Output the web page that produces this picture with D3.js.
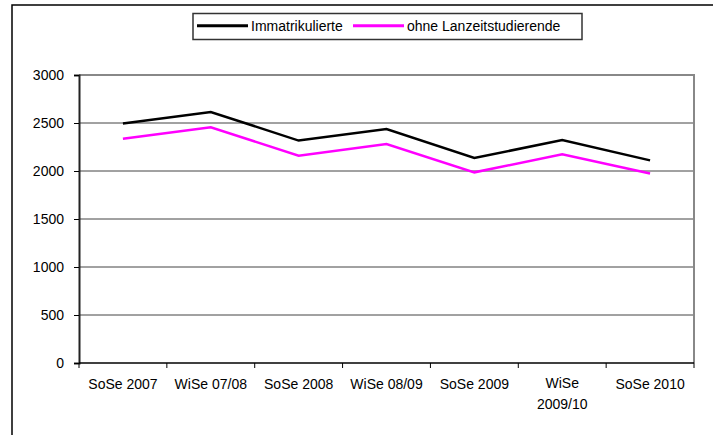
<!DOCTYPE html>
<html>
<head>
<meta charset="utf-8">
<script src="https://cdn.jsdelivr.net/npm/d3@7"></script>
<style>
  body { margin: 0; background: #fff; }
  svg { display: block; font-family: "Liberation Sans", Arial, sans-serif; }
</style>
</head>
<body>
<div id="chart"></div>
<script>
// Chart data
const semesters = ["SoSe 2007", "WiSe 07/08", "SoSe 2008", "WiSe 08/09", "SoSe 2009", "WiSe 2009/10", "SoSe 2010"];
const immatrikulierte = [2495, 2615, 2317, 2438, 2135, 2323, 2111];
const ohneLanzeit = [2337, 2455, 2160, 2281, 1986, 2174, 1973];
const yTicks = [0, 500, 1000, 1500, 2000, 2500, 3000];
const seriesNames = ["Immatrikulierte", "ohne Lanzeitstudierende"];
const seriesColors = ["#000000", "#ff00ff"];

const width = 713, height = 435;
const plot = {left: 79, top: 75, right: 694, bottom: 363};
const fontSize = 14;

const svg = d3.select('#chart').append('svg')
  .attr('width', width)
  .attr('height', height);

// Outer frame (only top and left edges visible)
svg.append('path')
  .attr('d', `M12,${height} L12,5 L${width},5`)
  .attr('fill', 'none')
  .attr('stroke', '#000')
  .attr('stroke-width', 1.5);

const x = d3.scaleBand()
  .domain(semesters)
  .range([plot.left, plot.right]);

const y = d3.scaleLinear()
  .domain([0, 3000])
  .range([plot.bottom, plot.top]);

// Gridlines
svg.append('g')
  .selectAll('line')
  .data(yTicks.filter(d => d > 0 && d < 3000))
  .join('line')
    .attr('x1', plot.left).attr('x2', plot.right)
    .attr('y1', d => y(d)).attr('y2', d => y(d))
    .attr('stroke', '#444')
    .attr('stroke-width', 1);

// Plot area border (top + right, gray)
svg.append('path')
  .attr('d', `M${plot.left},${y(3000)} L${plot.right},${y(3000)} L${plot.right},${plot.bottom}`)
  .attr('fill', 'none')
  .attr('stroke', '#888')
  .attr('stroke-width', 2);

// Y axis
const yAxis = svg.append('g')
  .attr('transform', `translate(${plot.left},0)`)
  .call(d3.axisLeft(y).tickValues(yTicks).tickFormat(d3.format('d')).tickSize(5).tickPadding(10));
yAxis.select('.domain').attr('stroke', '#222').attr('stroke-width', 2);
yAxis.selectAll('.tick line').attr('stroke', '#000');
yAxis.selectAll('.tick text')
  .attr('font-size', fontSize)
  .attr('font-family', '"Liberation Sans", Arial, sans-serif')
  .attr('fill', '#000');

// X axis - ticks at category boundaries
const xAxis = svg.append('g')
  .attr('transform', `translate(0,${plot.bottom})`);
xAxis.append('line')
  .attr('x1', plot.left).attr('x2', plot.right)
  .attr('stroke', '#000').attr('stroke-width', 1.5);
const boundaries = semesters.map(d => x(d)).concat([plot.right]);
xAxis.selectAll('line.tick')
  .data(boundaries)
  .join('line')
    .attr('class', 'tick')
    .attr('x1', d => d).attr('x2', d => d)
    .attr('y1', 0).attr('y2', 5)
    .attr('stroke', '#000');

const labelLines = d => d === "WiSe 2009/10" ? ["WiSe", "2009/10"] : [d];
xAxis.selectAll('text.cat')
  .data(semesters)
  .join('text')
    .attr('class', 'cat')
    .attr('text-anchor', 'middle')
    .attr('font-size', fontSize)
    .attr('fill', '#000')
    .attr('transform', d => `translate(${x(d) + x.bandwidth() / 2},${labelLines(d).length > 1 ? 25 : 26})`)
    .selectAll('tspan')
    .data(d => labelLines(d))
    .join('tspan')
      .attr('x', 0)
      .attr('dy', (d, i) => i === 0 ? 0 : 21)
      .text(d => d);

// Lines
const line = d3.line()
  .x((d, i) => x(semesters[i]) + x.bandwidth() / 2)
  .y(d => y(d));

[immatrikulierte, ohneLanzeit].forEach((values, i) => {
  svg.append('path')
    .datum(values)
    .attr('fill', 'none')
    .attr('stroke', seriesColors[i])
    .attr('stroke-width', 2.5)
    .attr('stroke-linejoin', 'miter')
    .attr('d', line);
});

// Legend
const legend = svg.append('g');
legend.append('rect')
  .attr('x', 193).attr('y', 13.5)
  .attr('width', 389).attr('height', 26)
  .attr('fill', '#fff')
  .attr('stroke', '#333')
  .attr('stroke-width', 1.5);

const legendX = [197, 353];
seriesNames.forEach((name, i) => {
  legend.append('line')
    .attr('x1', legendX[i]).attr('x2', legendX[i] + 51)
    .attr('y1', 25.7).attr('y2', 25.7)
    .attr('stroke', seriesColors[i])
    .attr('stroke-width', 3);
  legend.append('text')
    .attr('x', legendX[i] + 54)
    .attr('y', 30.5)
    .attr('font-size', fontSize)
    .attr('fill', '#000')
    .text(name);
});
</script>
</body>
</html>
